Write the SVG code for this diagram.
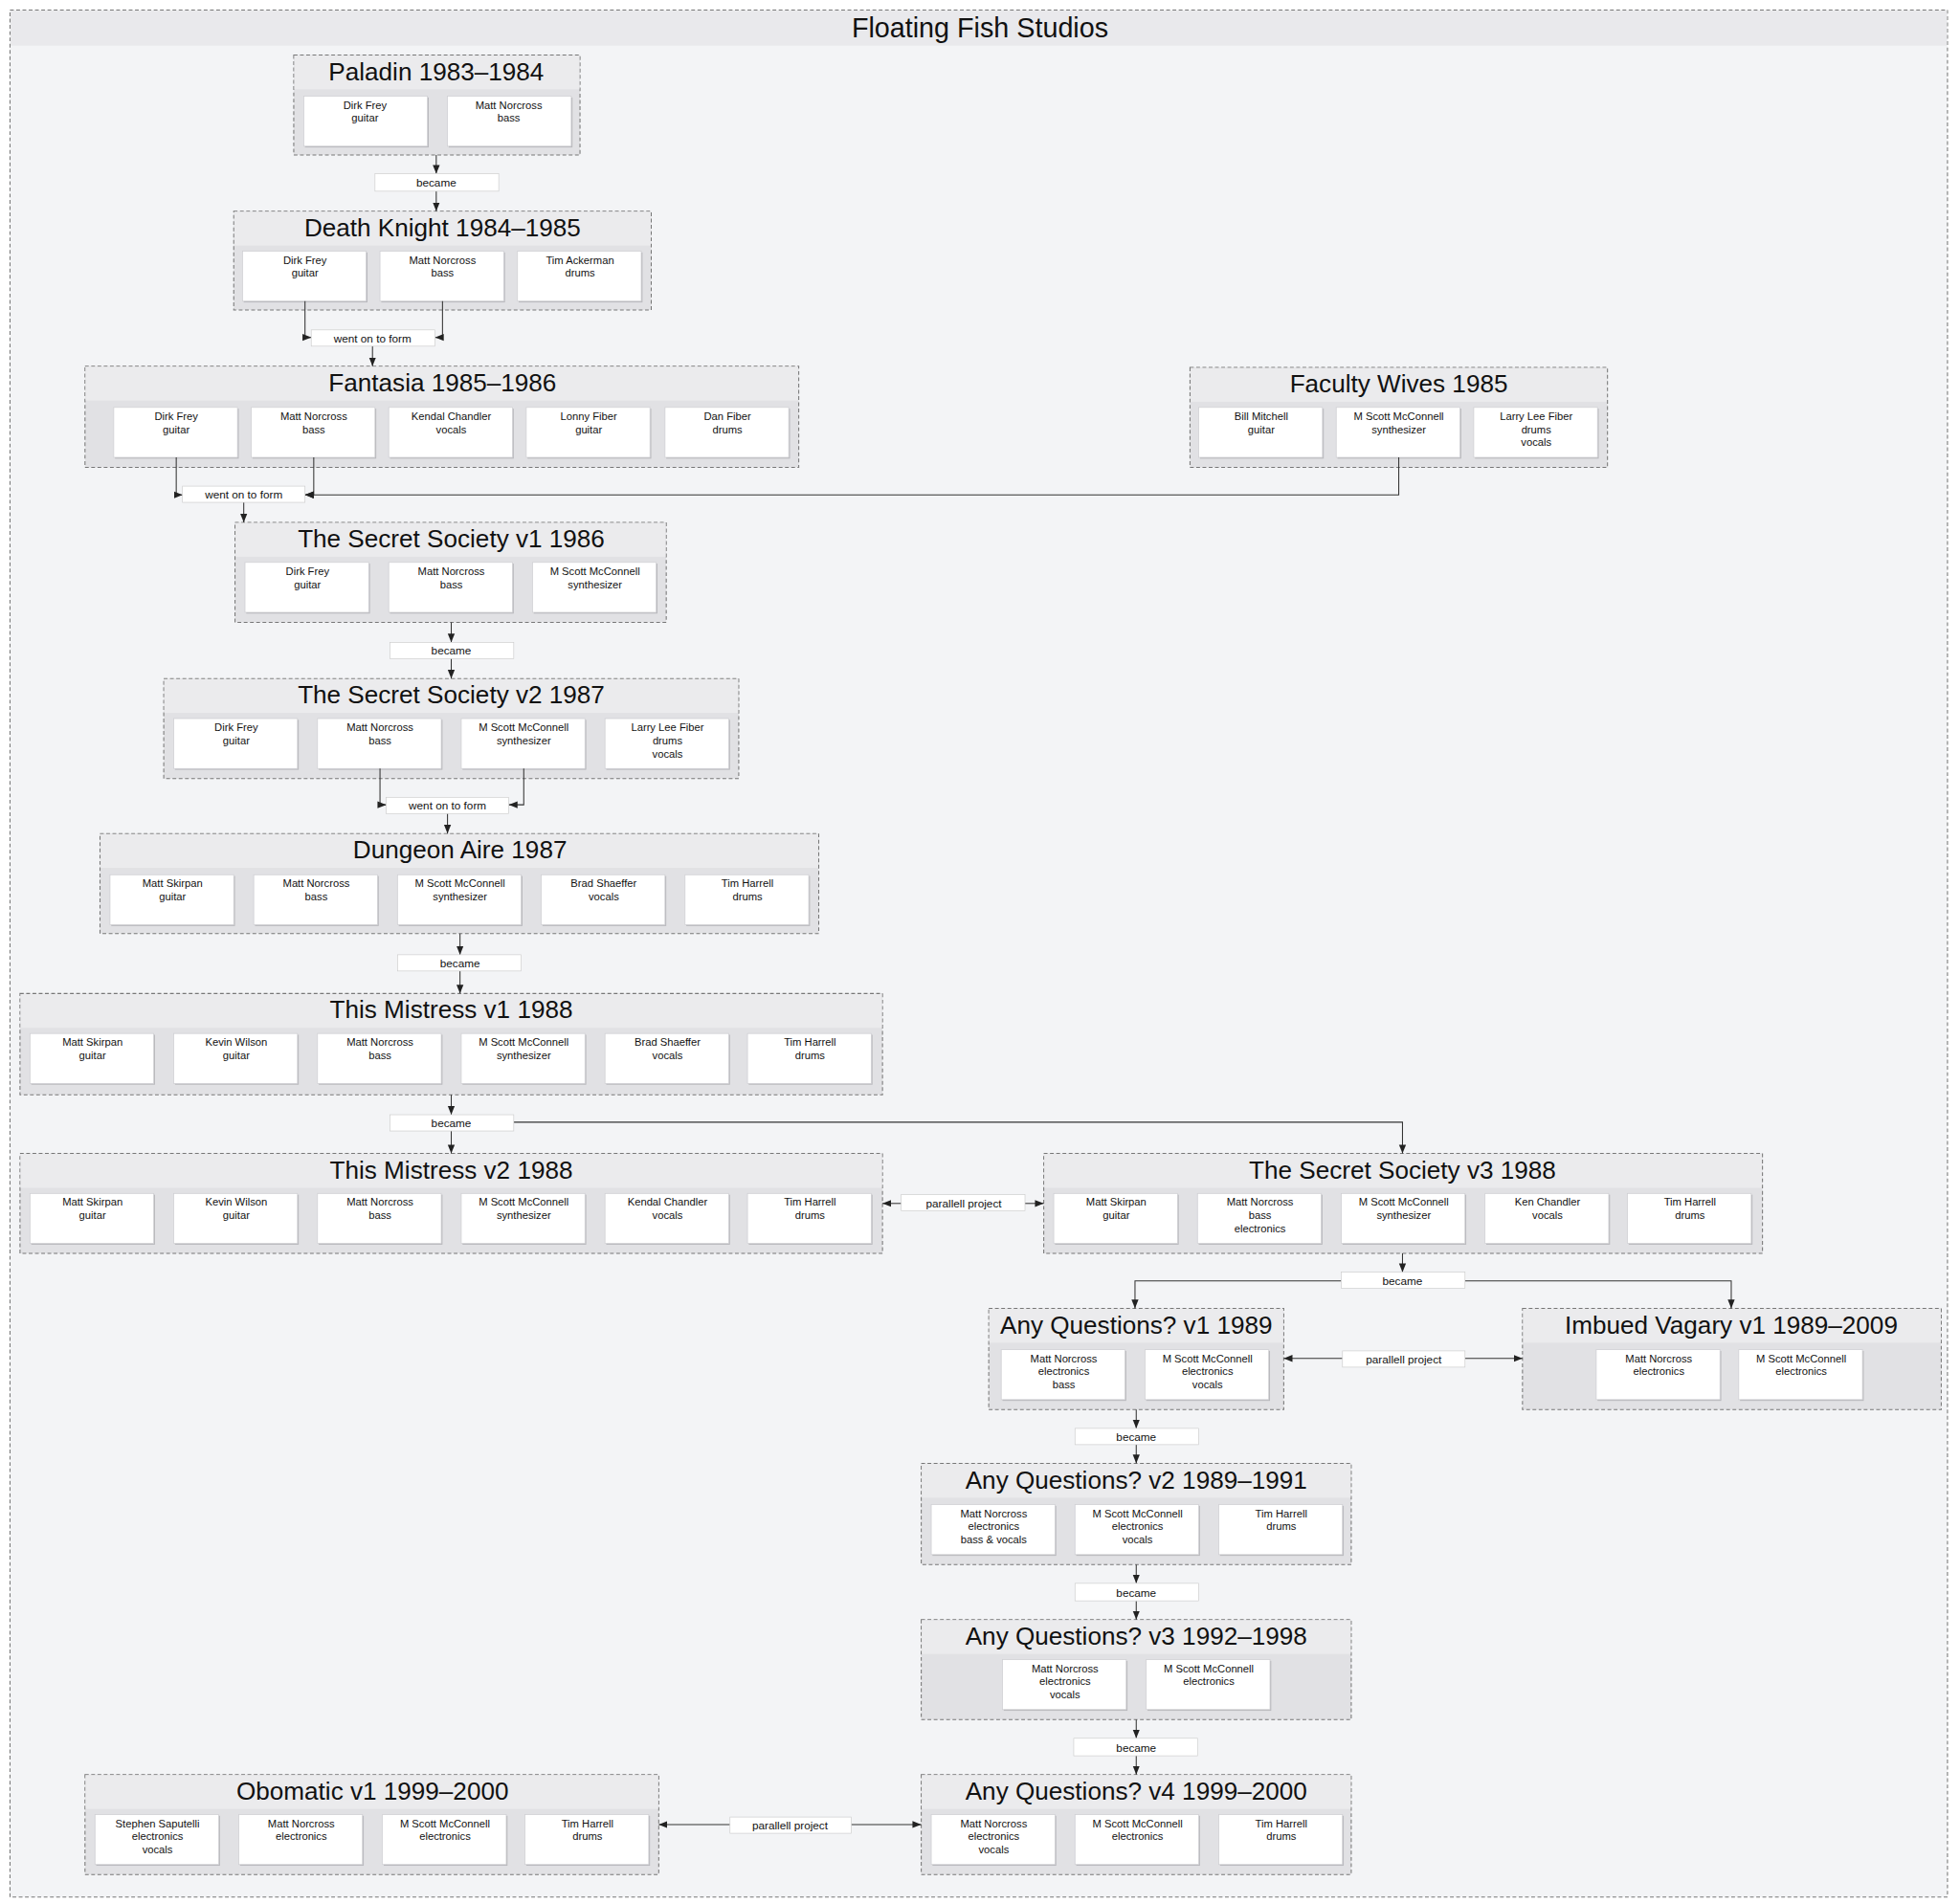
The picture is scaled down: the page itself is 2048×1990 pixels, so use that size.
<svg xmlns="http://www.w3.org/2000/svg" width="2048" height="1990" viewBox="0 0 2048 1990">
<style>
.outer{fill:#f3f4f6;stroke:#777;stroke-width:0.8;stroke-dasharray:3 2}
.tbar{fill:#e9e9ec}
.grp{fill:#e1e1e4;stroke:#777;stroke-width:0.8;stroke-dasharray:3 2}
.hdr{fill:#ebebed}
.card{fill:#fff;stroke:#d0d0d4;stroke-width:0.6}
.shd{fill:#b8b8bc}
.lbl{fill:#fff;stroke:#ccc;stroke-width:0.5}
.t{font-family:"Liberation Sans",Arial,sans-serif;fill:#111;text-anchor:middle}
.h{font-size:20px}
.c{font-size:8.6px}
.l{font-size:9px}
.e{fill:none;stroke:#333;stroke-width:0.8}
</style>
<defs>
<marker id="a" viewBox="0 0 10 10" refX="10" refY="5" markerWidth="7" markerHeight="7" orient="auto" markerUnits="userSpaceOnUse"><path d="M0,1 L10,5 L0,9 z" fill="#222"/></marker>
</defs>
<g transform="scale(1.30612)">
<rect class="outer" x="8" y="8" width="1550" height="1510"/>
<rect class="tbar" x="8.5" y="8.5" width="1549" height="28"/>
<text class="t" x="784" y="30" font-size="22">Floating Fish Studios</text>

<g id="paladin">
<rect class="grp" x="235" y="44" width="229" height="80"/><rect class="hdr" x="235.5" y="44.5" width="228" height="27"/>
<text class="t h" x="349" y="64">Paladin 1983–1984</text>
<rect class="shd" x="244" y="78" width="99" height="40"/><rect class="card" x="243" y="77" width="99" height="40"/><text class="t c" x="292" y="87">Dirk Frey</text><text class="t c" x="292" y="97.5">guitar</text>
<rect class="shd" x="359" y="78" width="99" height="40"/><rect class="card" x="358" y="77" width="99" height="40"/><text class="t c" x="407" y="87">Matt Norcross</text><text class="t c" x="407" y="97.5">bass</text>
</g>

<g id="deathknight">
<rect class="grp" x="187" y="169" width="334" height="79"/><rect class="hdr" x="187.5" y="169.5" width="333" height="27"/>
<text class="t h" x="354" y="189">Death Knight 1984–1985</text>
<rect class="shd" x="195" y="202" width="99" height="40"/><rect class="card" x="194" y="201" width="99" height="40"/><text class="t c" x="244" y="211">Dirk Frey</text><text class="t c" x="244" y="221.5">guitar</text>
<rect class="shd" x="305" y="202" width="99" height="40"/><rect class="card" x="304" y="201" width="99" height="40"/><text class="t c" x="354" y="211">Matt Norcross</text><text class="t c" x="354" y="221.5">bass</text>
<rect class="shd" x="415" y="202" width="99" height="40"/><rect class="card" x="414" y="201" width="99" height="40"/><text class="t c" x="464" y="211">Tim Ackerman</text><text class="t c" x="464" y="221.5">drums</text>
</g>

<g id="fantasia">
<rect class="grp" x="68" y="293" width="571" height="81"/><rect class="hdr" x="68.5" y="293.5" width="570" height="27"/>
<text class="t h" x="354" y="313">Fantasia 1985–1986</text>
<rect class="shd" x="92" y="327" width="99" height="40"/><rect class="card" x="91" y="326" width="99" height="40"/><text class="t c" x="141" y="336">Dirk Frey</text><text class="t c" x="141" y="346.5">guitar</text>
<rect class="shd" x="202" y="327" width="99" height="40"/><rect class="card" x="201" y="326" width="99" height="40"/><text class="t c" x="251" y="336">Matt Norcross</text><text class="t c" x="251" y="346.5">bass</text>
<rect class="shd" x="312" y="327" width="99" height="40"/><rect class="card" x="311" y="326" width="99" height="40"/><text class="t c" x="361" y="336">Kendal Chandler</text><text class="t c" x="361" y="346.5">vocals</text>
<rect class="shd" x="422" y="327" width="99" height="40"/><rect class="card" x="421" y="326" width="99" height="40"/><text class="t c" x="471" y="336">Lonny Fiber</text><text class="t c" x="471" y="346.5">guitar</text>
<rect class="shd" x="533" y="327" width="99" height="40"/><rect class="card" x="532" y="326" width="99" height="40"/><text class="t c" x="582" y="336">Dan Fiber</text><text class="t c" x="582" y="346.5">drums</text>
</g>

<g id="facultywives">
<rect class="grp" x="952" y="294" width="334" height="80"/><rect class="hdr" x="952.5" y="294.5" width="333" height="27"/>
<text class="t h" x="1119" y="314">Faculty Wives 1985</text>
<rect class="shd" x="960" y="327" width="99" height="40"/><rect class="card" x="959" y="326" width="99" height="40"/><text class="t c" x="1009" y="336">Bill Mitchell</text><text class="t c" x="1009" y="346.5">guitar</text>
<rect class="shd" x="1070" y="327" width="99" height="40"/><rect class="card" x="1069" y="326" width="99" height="40"/><text class="t c" x="1119" y="336">M Scott McConnell</text><text class="t c" x="1119" y="346.5">synthesizer</text>
<rect class="shd" x="1180" y="327" width="99" height="40"/><rect class="card" x="1179" y="326" width="99" height="40"/><text class="t c" x="1229" y="336">Larry Lee Fiber</text><text class="t c" x="1229" y="346.5">drums</text><text class="t c" x="1229" y="357">vocals</text>
</g>

<g id="ssv1">
<rect class="grp" x="188" y="418" width="345" height="80"/><rect class="hdr" x="188.5" y="418.5" width="344" height="27"/>
<text class="t h" x="361" y="438">The Secret Society v1 1986</text>
<rect class="shd" x="197" y="451" width="99" height="40"/><rect class="card" x="196" y="450" width="99" height="40"/><text class="t c" x="246" y="460">Dirk Frey</text><text class="t c" x="246" y="470.5">guitar</text>
<rect class="shd" x="312" y="451" width="99" height="40"/><rect class="card" x="311" y="450" width="99" height="40"/><text class="t c" x="361" y="460">Matt Norcross</text><text class="t c" x="361" y="470.5">bass</text>
<rect class="shd" x="427" y="451" width="99" height="40"/><rect class="card" x="426" y="450" width="99" height="40"/><text class="t c" x="476" y="460">M Scott McConnell</text><text class="t c" x="476" y="470.5">synthesizer</text>
</g>

<g id="ssv2">
<rect class="grp" x="131" y="543" width="460" height="80"/><rect class="hdr" x="131.5" y="543.5" width="459" height="27"/>
<text class="t h" x="361" y="563">The Secret Society v2 1987</text>
<rect class="shd" x="140" y="576" width="99" height="40"/><rect class="card" x="139" y="575" width="99" height="40"/><text class="t c" x="189" y="585">Dirk Frey</text><text class="t c" x="189" y="595.5">guitar</text>
<rect class="shd" x="255" y="576" width="99" height="40"/><rect class="card" x="254" y="575" width="99" height="40"/><text class="t c" x="304" y="585">Matt Norcross</text><text class="t c" x="304" y="595.5">bass</text>
<rect class="shd" x="370" y="576" width="99" height="40"/><rect class="card" x="369" y="575" width="99" height="40"/><text class="t c" x="419" y="585">M Scott McConnell</text><text class="t c" x="419" y="595.5">synthesizer</text>
<rect class="shd" x="485" y="576" width="99" height="40"/><rect class="card" x="484" y="575" width="99" height="40"/><text class="t c" x="534" y="585">Larry Lee Fiber</text><text class="t c" x="534" y="595.5">drums</text><text class="t c" x="534" y="606">vocals</text>
</g>

<g id="dungeonaire">
<rect class="grp" x="80" y="667" width="575" height="80"/><rect class="hdr" x="80.5" y="667.5" width="574" height="27"/>
<text class="t h" x="368" y="687">Dungeon Aire 1987</text>
<rect class="shd" x="89" y="701" width="99" height="40"/><rect class="card" x="88" y="700" width="99" height="40"/><text class="t c" x="138" y="710">Matt Skirpan</text><text class="t c" x="138" y="720.5">guitar</text>
<rect class="shd" x="204" y="701" width="99" height="40"/><rect class="card" x="203" y="700" width="99" height="40"/><text class="t c" x="253" y="710">Matt Norcross</text><text class="t c" x="253" y="720.5">bass</text>
<rect class="shd" x="319" y="701" width="99" height="40"/><rect class="card" x="318" y="700" width="99" height="40"/><text class="t c" x="368" y="710">M Scott McConnell</text><text class="t c" x="368" y="720.5">synthesizer</text>
<rect class="shd" x="434" y="701" width="99" height="40"/><rect class="card" x="433" y="700" width="99" height="40"/><text class="t c" x="483" y="710">Brad Shaeffer</text><text class="t c" x="483" y="720.5">vocals</text>
<rect class="shd" x="549" y="701" width="99" height="40"/><rect class="card" x="548" y="700" width="99" height="40"/><text class="t c" x="598" y="710">Tim Harrell</text><text class="t c" x="598" y="720.5">drums</text>
</g>

<g id="tmv1">
<rect class="grp" x="16" y="795" width="690" height="81"/><rect class="hdr" x="16.5" y="795.5" width="689" height="27"/>
<text class="t h" x="361" y="815">This Mistress v1 1988</text>
<rect class="shd" x="25" y="828" width="99" height="40"/><rect class="card" x="24" y="827" width="99" height="40"/><text class="t c" x="74" y="837">Matt Skirpan</text><text class="t c" x="74" y="847.5">guitar</text>
<rect class="shd" x="140" y="828" width="99" height="40"/><rect class="card" x="139" y="827" width="99" height="40"/><text class="t c" x="189" y="837">Kevin Wilson</text><text class="t c" x="189" y="847.5">guitar</text>
<rect class="shd" x="255" y="828" width="99" height="40"/><rect class="card" x="254" y="827" width="99" height="40"/><text class="t c" x="304" y="837">Matt Norcross</text><text class="t c" x="304" y="847.5">bass</text>
<rect class="shd" x="370" y="828" width="99" height="40"/><rect class="card" x="369" y="827" width="99" height="40"/><text class="t c" x="419" y="837">M Scott McConnell</text><text class="t c" x="419" y="847.5">synthesizer</text>
<rect class="shd" x="485" y="828" width="99" height="40"/><rect class="card" x="484" y="827" width="99" height="40"/><text class="t c" x="534" y="837">Brad Shaeffer</text><text class="t c" x="534" y="847.5">vocals</text>
<rect class="shd" x="599" y="828" width="99" height="40"/><rect class="card" x="598" y="827" width="99" height="40"/><text class="t c" x="648" y="837">Tim Harrell</text><text class="t c" x="648" y="847.5">drums</text>
</g>

<g id="tmv2">
<rect class="grp" x="16" y="923" width="690" height="80"/><rect class="hdr" x="16.5" y="923.5" width="689" height="27"/>
<text class="t h" x="361" y="943">This Mistress v2 1988</text>
<rect class="shd" x="25" y="956" width="99" height="40"/><rect class="card" x="24" y="955" width="99" height="40"/><text class="t c" x="74" y="965">Matt Skirpan</text><text class="t c" x="74" y="975.5">guitar</text>
<rect class="shd" x="140" y="956" width="99" height="40"/><rect class="card" x="139" y="955" width="99" height="40"/><text class="t c" x="189" y="965">Kevin Wilson</text><text class="t c" x="189" y="975.5">guitar</text>
<rect class="shd" x="255" y="956" width="99" height="40"/><rect class="card" x="254" y="955" width="99" height="40"/><text class="t c" x="304" y="965">Matt Norcross</text><text class="t c" x="304" y="975.5">bass</text>
<rect class="shd" x="370" y="956" width="99" height="40"/><rect class="card" x="369" y="955" width="99" height="40"/><text class="t c" x="419" y="965">M Scott McConnell</text><text class="t c" x="419" y="975.5">synthesizer</text>
<rect class="shd" x="485" y="956" width="99" height="40"/><rect class="card" x="484" y="955" width="99" height="40"/><text class="t c" x="534" y="965">Kendal Chandler</text><text class="t c" x="534" y="975.5">vocals</text>
<rect class="shd" x="599" y="956" width="99" height="40"/><rect class="card" x="598" y="955" width="99" height="40"/><text class="t c" x="648" y="965">Tim Harrell</text><text class="t c" x="648" y="975.5">drums</text>
</g>

<g id="ssv3">
<rect class="grp" x="835" y="923" width="575" height="80"/><rect class="hdr" x="835.5" y="923.5" width="574" height="27"/>
<text class="t h" x="1122" y="943">The Secret Society v3 1988</text>
<rect class="shd" x="844" y="956" width="99" height="40"/><rect class="card" x="843" y="955" width="99" height="40"/><text class="t c" x="893" y="965">Matt Skirpan</text><text class="t c" x="893" y="975.5">guitar</text>
<rect class="shd" x="959" y="956" width="99" height="40"/><rect class="card" x="958" y="955" width="99" height="40"/><text class="t c" x="1008" y="965">Matt Norcross</text><text class="t c" x="1008" y="975.5">bass</text><text class="t c" x="1008" y="986">electronics</text>
<rect class="shd" x="1074" y="956" width="99" height="40"/><rect class="card" x="1073" y="955" width="99" height="40"/><text class="t c" x="1123" y="965">M Scott McConnell</text><text class="t c" x="1123" y="975.5">synthesizer</text>
<rect class="shd" x="1189" y="956" width="99" height="40"/><rect class="card" x="1188" y="955" width="99" height="40"/><text class="t c" x="1238" y="965">Ken Chandler</text><text class="t c" x="1238" y="975.5">vocals</text>
<rect class="shd" x="1303" y="956" width="99" height="40"/><rect class="card" x="1302" y="955" width="99" height="40"/><text class="t c" x="1352" y="965">Tim Harrell</text><text class="t c" x="1352" y="975.5">drums</text>
</g>

<g id="aqv1">
<rect class="grp" x="791" y="1047" width="236" height="81"/><rect class="hdr" x="791.5" y="1047.5" width="235" height="27"/>
<text class="t h" x="909" y="1067">Any Questions? v1 1989</text>
<rect class="shd" x="802" y="1081" width="99" height="40"/><rect class="card" x="801" y="1080" width="99" height="40"/><text class="t c" x="851" y="1090">Matt Norcross</text><text class="t c" x="851" y="1100.5">electronics</text><text class="t c" x="851" y="1111">bass</text>
<rect class="shd" x="917" y="1081" width="99" height="40"/><rect class="card" x="916" y="1080" width="99" height="40"/><text class="t c" x="966" y="1090">M Scott McConnell</text><text class="t c" x="966" y="1100.5">electronics</text><text class="t c" x="966" y="1111">vocals</text>
</g>

<g id="imbuedvagary">
<rect class="grp" x="1218" y="1047" width="335" height="81"/><rect class="hdr" x="1218.5" y="1047.5" width="334" height="27"/>
<text class="t h" x="1385" y="1067">Imbued Vagary v1 1989–2009</text>
<rect class="shd" x="1278" y="1081" width="99" height="40"/><rect class="card" x="1277" y="1080" width="99" height="40"/><text class="t c" x="1327" y="1090">Matt Norcross</text><text class="t c" x="1327" y="1100.5">electronics</text>
<rect class="shd" x="1392" y="1081" width="99" height="40"/><rect class="card" x="1391" y="1080" width="99" height="40"/><text class="t c" x="1441" y="1090">M Scott McConnell</text><text class="t c" x="1441" y="1100.5">electronics</text>
</g>

<g id="aqv2">
<rect class="grp" x="737" y="1171" width="344" height="81"/><rect class="hdr" x="737.5" y="1171.5" width="343" height="27"/>
<text class="t h" x="909" y="1191">Any Questions? v2 1989–1991</text>
<rect class="shd" x="746" y="1205" width="99" height="40"/><rect class="card" x="745" y="1204" width="99" height="40"/><text class="t c" x="795" y="1214">Matt Norcross</text><text class="t c" x="795" y="1224.5">electronics</text><text class="t c" x="795" y="1235">bass &amp; vocals</text>
<rect class="shd" x="861" y="1205" width="99" height="40"/><rect class="card" x="860" y="1204" width="99" height="40"/><text class="t c" x="910" y="1214">M Scott McConnell</text><text class="t c" x="910" y="1224.5">electronics</text><text class="t c" x="910" y="1235">vocals</text>
<rect class="shd" x="976" y="1205" width="99" height="40"/><rect class="card" x="975" y="1204" width="99" height="40"/><text class="t c" x="1025" y="1214">Tim Harrell</text><text class="t c" x="1025" y="1224.5">drums</text>
</g>

<g id="aqv3">
<rect class="grp" x="737" y="1296" width="344" height="80"/><rect class="hdr" x="737.5" y="1296.5" width="343" height="27"/>
<text class="t h" x="909" y="1316">Any Questions? v3 1992–1998</text>
<rect class="shd" x="803" y="1329" width="99" height="40"/><rect class="card" x="802" y="1328" width="99" height="40"/><text class="t c" x="852" y="1338">Matt Norcross</text><text class="t c" x="852" y="1348.5">electronics</text><text class="t c" x="852" y="1359">vocals</text>
<rect class="shd" x="918" y="1329" width="99" height="40"/><rect class="card" x="917" y="1328" width="99" height="40"/><text class="t c" x="967" y="1338">M Scott McConnell</text><text class="t c" x="967" y="1348.5">electronics</text>
</g>

<g id="aqv4">
<rect class="grp" x="737" y="1420" width="344" height="80"/><rect class="hdr" x="737.5" y="1420.5" width="343" height="27"/>
<text class="t h" x="909" y="1440">Any Questions? v4 1999–2000</text>
<rect class="shd" x="746" y="1453" width="99" height="40"/><rect class="card" x="745" y="1452" width="99" height="40"/><text class="t c" x="795" y="1462">Matt Norcross</text><text class="t c" x="795" y="1472.5">electronics</text><text class="t c" x="795" y="1483">vocals</text>
<rect class="shd" x="861" y="1453" width="99" height="40"/><rect class="card" x="860" y="1452" width="99" height="40"/><text class="t c" x="910" y="1462">M Scott McConnell</text><text class="t c" x="910" y="1472.5">electronics</text>
<rect class="shd" x="976" y="1453" width="99" height="40"/><rect class="card" x="975" y="1452" width="99" height="40"/><text class="t c" x="1025" y="1462">Tim Harrell</text><text class="t c" x="1025" y="1472.5">drums</text>
</g>

<g id="obomatic">
<rect class="grp" x="68" y="1420" width="459" height="80"/><rect class="hdr" x="68.5" y="1420.5" width="458" height="27"/>
<text class="t h" x="298" y="1440">Obomatic v1 1999–2000</text>
<rect class="shd" x="77" y="1453" width="99" height="40"/><rect class="card" x="76" y="1452" width="99" height="40"/><text class="t c" x="126" y="1462">Stephen Saputelli</text><text class="t c" x="126" y="1472.5">electronics</text><text class="t c" x="126" y="1483">vocals</text>
<rect class="shd" x="192" y="1453" width="99" height="40"/><rect class="card" x="191" y="1452" width="99" height="40"/><text class="t c" x="241" y="1462">Matt Norcross</text><text class="t c" x="241" y="1472.5">electronics</text>
<rect class="shd" x="307" y="1453" width="99" height="40"/><rect class="card" x="306" y="1452" width="99" height="40"/><text class="t c" x="356" y="1462">M Scott McConnell</text><text class="t c" x="356" y="1472.5">electronics</text>
<rect class="shd" x="421" y="1453" width="99" height="40"/><rect class="card" x="420" y="1452" width="99" height="40"/><text class="t c" x="470" y="1462">Tim Harrell</text><text class="t c" x="470" y="1472.5">drums</text>
</g>

<g id="connectors">
<path class="e" d="M349,124 V139" marker-end="url(#a)"/><path class="e" d="M349,153 V169" marker-end="url(#a)"/>
<path class="e" d="M244,241 V270 H249" marker-end="url(#a)"/><path class="e" d="M354,241 V270 H348" marker-end="url(#a)"/><path class="e" d="M298,277 V293" marker-end="url(#a)"/>
<path class="e" d="M141,366 V396 H146" marker-end="url(#a)"/><path class="e" d="M251,366 V396 H244" marker-end="url(#a)"/><path class="e" d="M1119,366 V396 H244" marker-end="url(#a)"/><path class="e" d="M195,402 V418" marker-end="url(#a)"/>
<path class="e" d="M361,498 V514" marker-end="url(#a)"/><path class="e" d="M361,527 V543" marker-end="url(#a)"/>
<path class="e" d="M304,615 V644 H309" marker-end="url(#a)"/><path class="e" d="M419,615 V644 H407" marker-end="url(#a)"/><path class="e" d="M358,651 V667" marker-end="url(#a)"/>
<path class="e" d="M368,747 V764" marker-end="url(#a)"/><path class="e" d="M368,777 V795" marker-end="url(#a)"/>
<path class="e" d="M361,876 V892" marker-end="url(#a)"/><path class="e" d="M361,905 V923" marker-end="url(#a)"/><path class="e" d="M411,898 H1122 V923" marker-end="url(#a)"/>
<path class="e" d="M721,963 H706" marker-end="url(#a)"/><path class="e" d="M820,963 H835" marker-end="url(#a)"/>
<path class="e" d="M1122,1003 V1018" marker-end="url(#a)"/><path class="e" d="M1073,1025 H908 V1047" marker-end="url(#a)"/><path class="e" d="M1172,1025 H1385 V1047" marker-end="url(#a)"/>
<path class="e" d="M1074,1087 H1027" marker-end="url(#a)"/><path class="e" d="M1172,1087 H1218" marker-end="url(#a)"/>
<path class="e" d="M909,1128 V1143" marker-end="url(#a)"/><path class="e" d="M909,1156 V1171" marker-end="url(#a)"/>
<path class="e" d="M909,1252 V1267" marker-end="url(#a)"/><path class="e" d="M909,1281 V1296" marker-end="url(#a)"/>
<path class="e" d="M909,1376 V1391" marker-end="url(#a)"/><path class="e" d="M909,1405 V1420" marker-end="url(#a)"/>
<path class="e" d="M584,1460 H527" marker-end="url(#a)"/><path class="e" d="M681,1460 H737" marker-end="url(#a)"/>
<rect class="lbl" x="300" y="139" width="99" height="14"/><text class="t l" x="349" y="149.5">became</text>
<rect class="lbl" x="249" y="264" width="99" height="13"/><text class="t l" x="298" y="274">went on to form</text>
<rect class="lbl" x="146" y="389" width="98" height="13"/><text class="t l" x="195" y="399">went on to form</text>
<rect class="lbl" x="312" y="514" width="99" height="13"/><text class="t l" x="361" y="524">became</text>
<rect class="lbl" x="309" y="638" width="98" height="13"/><text class="t l" x="358" y="648">went on to form</text>
<rect class="lbl" x="318" y="764" width="99" height="13"/><text class="t l" x="368" y="774">became</text>
<rect class="lbl" x="312" y="892" width="99" height="13"/><text class="t l" x="361" y="902">became</text>
<rect class="lbl" x="721" y="956" width="99" height="13"/><text class="t l" x="771" y="966">parallell project</text>
<rect class="lbl" x="1073" y="1018" width="99" height="13"/><text class="t l" x="1122" y="1028">became</text>
<rect class="lbl" x="1074" y="1081" width="98" height="13"/><text class="t l" x="1123" y="1091">parallell project</text>
<rect class="lbl" x="860" y="1143" width="99" height="13"/><text class="t l" x="909" y="1153">became</text>
<rect class="lbl" x="860" y="1267" width="99" height="14"/><text class="t l" x="909" y="1277.5">became</text>
<rect class="lbl" x="859" y="1391" width="99" height="14"/><text class="t l" x="909" y="1401.5">became</text>
<rect class="lbl" x="584" y="1454" width="97" height="13"/><text class="t l" x="632" y="1464">parallell project</text>
</g>
</g>
</svg>
